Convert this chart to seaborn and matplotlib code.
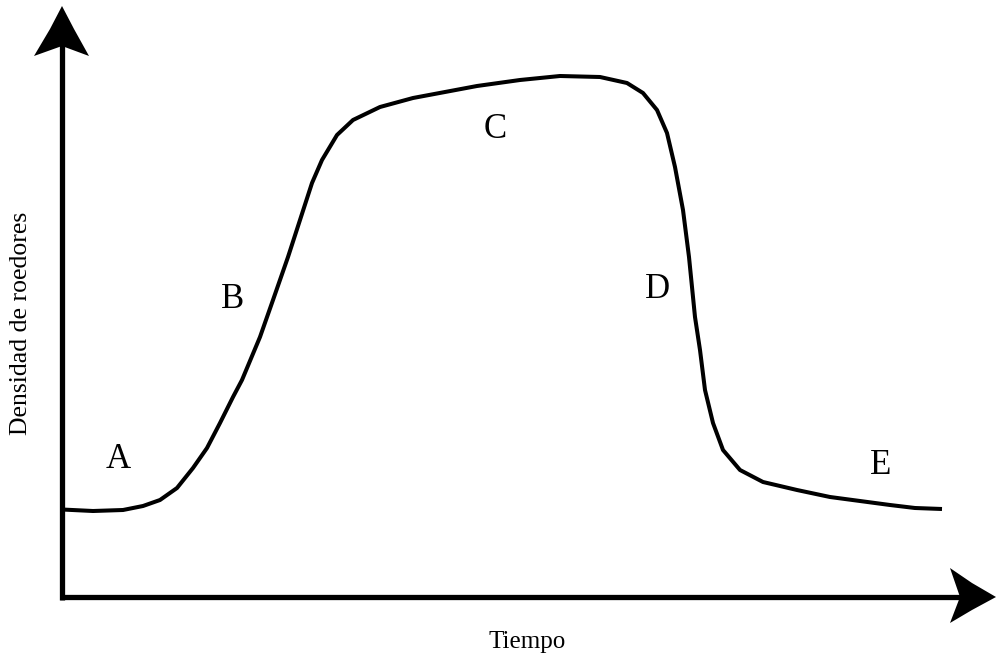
import seaborn as sns
import matplotlib.pyplot as plt
from matplotlib.patches import Polygon

# curve (time, density), axis origin at (0, 0)
tiempo = [0.0, 3.1, 6.1, 8.1, 9.8, 11.5, 13.1, 14.5, 15.8, 17.1, 18.0,
          19.8, 21.1, 22.6, 23.8, 25.0, 26.0, 27.5, 29.1, 31.8, 35.1,
          41.5, 45.8, 49.8, 53.8, 56.5, 58.1, 59.5, 60.5, 61.3, 62.1,
          62.7, 63.3, 63.8, 64.3, 65.1, 66.1, 67.8, 70.1, 73.5, 76.8,
          79.8, 82.8, 85.3, 88.0]
densidad = [8.75, 8.6, 8.7, 9.1, 9.7, 10.9, 12.9, 14.9, 17.4, 20.0, 21.7,
            26.0, 29.7, 34.0, 37.7, 41.4, 43.7, 46.2, 47.7, 49.0, 49.9,
            51.1, 51.7, 52.1, 52.0, 51.4, 50.4, 48.7, 46.4, 43.0, 38.7,
            34.0, 28.0, 24.7, 20.7, 17.4, 14.7, 12.7, 11.5, 10.7, 10.0,
            9.6, 9.2, 8.9, 8.8]

etiquetas = ["A", "B", "C", "D", "E"]
etiq_x = [5.6, 17.1, 43.3, 59.6, 81.9]
etiq_y = [13.7, 29.7, 46.7, 30.7, 13.1]

sns.set_style("white")
plt.rcParams['font.family'] = ['Liberation Serif', 'DejaVu Serif']
plt.rcParams['text.color'] = 'black'

fig = plt.figure(figsize=(9.97, 6.57), dpi=100)
ax = fig.add_axes([0, 0, 1, 1])
ax.set_xlim(-6.2, 93.5)
ax.set_ylim(-6.0, 59.7)
ax.axis("off")

# axes with arrow heads
ax.plot([0, 0], [-0.25, 55.5], color="black", lw=3.8, solid_capstyle="butt")
ax.plot([-0.25, 90.0], [0, 0], color="black", lw=3.8, solid_capstyle="butt")
ax.add_patch(Polygon([(0, 59.1), (1.2, 56.8), (2.7, 54.1), (0, 55.1),
                      (-2.8, 54.1), (-1.2, 56.8)], closed=True,
                     color="black", lw=0))
ax.add_patch(Polygon([(93.4, 0), (91.0, 1.4), (88.8, 2.9), (89.8, 0),
                      (88.8, -2.6), (91.0, -1.3)], closed=True,
                     color="black", lw=0))

sns.lineplot(x=tiempo, y=densidad, ax=ax, sort=False, estimator=None,
             color="black", linewidth=2.9, solid_joinstyle="round",
             solid_capstyle="butt")

for t, x, y in zip(etiquetas, etiq_x, etiq_y):
    ax.text(x, y, t, fontsize=25, ha="center", va="center", color="black")

fig.text(527 / 997, 1 - 642 / 657, "Tiempo", fontsize=18,
         ha="center", va="center", color="black")
fig.text(21 / 997, 1 - 323 / 657, "Densidad de roedores", fontsize=18.5,
         rotation=90, ha="center", va="center", color="black")

fig.savefig("out.png", dpi=100)
